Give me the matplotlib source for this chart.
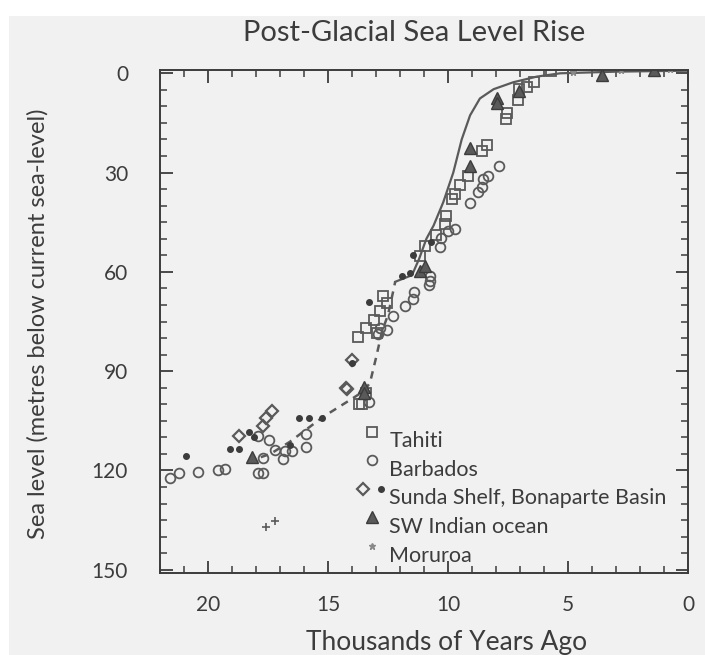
import matplotlib.pyplot as plt
from matplotlib.patches import Rectangle
from matplotlib.lines import Line2D
from matplotlib.legend_handler import HandlerTuple, HandlerLine2D
from matplotlib.ticker import MultipleLocator

# kyr ago / metres below present
tahiti_x = [5.7, 6.4, 6.7, 7.03, 7.1, 7.53, 7.58, 8.39, 8.6, 9.15, 9.5, 9.7, 9.85, 10.1,
            10.14, 10.5, 10.96, 11.17, 12.7, 12.55, 12.83, 13.1, 13.4, 13.74, 12.97, 13.4, 13.6, 13.7]
tahiti_y = [-0.7, 2.5, 4.0, 4.6, 8.1, 11.9, 13.7, 21.6, 23.6, 31.1, 33.7, 36.5, 38, 43,
            45.6, 48.8, 52.2, 55.2, 67.4, 69.4, 71.9, 74.5, 77, 79.7, 78.5, 96.7, 99.8, 99.8]

barb_x = [7.88, 8.32, 8.55, 8.6, 8.74, 9.08, 9.7, 10.0, 10.3, 10.35, 10.75, 10.75, 10.8, 11.4,
          11.45, 11.8, 12.28, 12.53, 12.83, 12.9, 13.3,
          21.6, 21.2, 20.4, 19.6, 19.3, 17.9, 17.46, 17.7, 17.9, 17.7, 17.2, 16.86, 16.8, 16.5, 15.9, 15.9]
barb_y = [27.9, 31.1, 31.9, 34.5, 36, 39.2, 47.1, 47.7, 49.7, 52.5, 61.1, 62.8, 64, 66,
          68.2, 70.4, 73.4, 77.5, 77, 78.7, 99.3,
          122.2, 120.8, 120.4, 119.8, 119.5, 109.5, 110.7, 116.3, 120.8, 120.8, 113.7, 116.5, 114, 114.2, 112.9, 108.9]

sunda_x = [18.7, 17.7, 17.6, 17.35, 14.2, 14.0, 14.25]
sunda_y = [109.5, 106.6, 104.3, 102, 95.4, 86.6, 95.2]

bonap_x = [20.9, 19.1, 18.7, 18.3, 18.1, 16.2, 15.8, 15.26, 13.3, 14.0, 11.45, 10.7, 16.6, 11.93, 11.6]
bonap_y = [115.7, 113.5, 113.5, 108.4, 109.9, 104.3, 104.3, 104.3, 69.2, 87.6, 55, 50.9, 112.2, 61.3, 60.3]

swind_x = [18.15, 13.5, 7.97, 7.97, 9.1, 9.08, 7.03, 3.6, 1.4, 11.17, 10.96, 13.5]
swind_y = [116, 94.7, 7.6, 9.1, 22.6, 27.9, 5.4, 0.5, -1, 59.8, 58.3, 96.5]

mur_x = [4.8, 2.8, 0.75]
mur_y = [-0.5, -1, -1.2]

cross_x = [17.6, 17.2]
cross_y = [137, 135.3]

dash_x = [17.8, 17.4, 16.6, 15.2, 14.1, 13.5, 13.25, 13.0, 12.75, 12.5, 12.3, 12.2]
dash_y = [116, 115, 111.4, 103.8, 98.8, 96, 93.5, 86, 78, 73, 66.4, 63]

curve_x = [12.2, 11.5, 11.2, 10.9, 10.6, 10.2, 9.78, 9.43, 9.08, 8.67, 8.1, 7.28, 6.3, 5.33, 3, 0]
curve_y = [63, 61, 56, 50, 46, 39, 30, 20, 12.7, 7.6, 4.8, 2.7, 1.0, 0, -0.5, -0.8]

ink = '#3c3c3c'
mk = '#5a5a5a'
paper = '#f1f1f1'
plt.rcParams['font.family'] = ['Lato', 'DejaVu Sans']


class RaisedMarker(HandlerLine2D):
    # legend symbols in the original sit a little above the text line
    def create_artists(self, legend, orig_handle, xdescent, ydescent, width, height, fontsize, trans):
        return super().create_artists(legend, orig_handle, xdescent, ydescent - 0.75 * fontsize,
                                      width, height, fontsize, trans)


fig = plt.figure(figsize=(7.05, 6.55), dpi=100, facecolor='white')
fig.patches.append(Rectangle((9 / 705, 0), 1, 1 - 16 / 655, transform=fig.transFigure,
                             facecolor=paper, edgecolor='none', zorder=-10))
ax = fig.add_axes([160 / 705, 1 - 573 / 655, 528 / 705, 503 / 655])
ax.set_facecolor(paper)

ax.plot(curve_x, curve_y, '-', color=mk, lw=1.6)
ax.plot(dash_x, dash_y, '--', color=mk, lw=1.8, dashes=(3, 2.5))

h1, = ax.plot(tahiti_x, tahiti_y, 's', ms=7, mfc='none', mec=mk, mew=1.3, ls='none')
h2, = ax.plot(barb_x, barb_y, 'o', ms=7, mfc='none', mec=mk, mew=1.3, ls='none')
h3a, = ax.plot(sunda_x, sunda_y, 'D', ms=6, mfc='none', mec=mk, mew=1.6, ls='none')
h3b, = ax.plot(bonap_x, bonap_y, 'o', ms=4, mfc=ink, mec=ink, ls='none')
h4, = ax.plot(swind_x, swind_y, '^', ms=8, mfc=mk, mec=ink, ls='none')
h5, = ax.plot(mur_x, mur_y, '*', ms=5, mfc='#888888', mec='#888888', ls='none')
ax.plot(cross_x, cross_y, '+', ms=6, mew=1.2, color=mk, ls='none')

ax.set_xlim(22, 0)
ax.set_ylim(151, -1)
ax.xaxis.set_major_locator(MultipleLocator(5))
ax.xaxis.set_minor_locator(MultipleLocator(1))
ax.yaxis.set_major_locator(MultipleLocator(30))
ax.yaxis.set_minor_locator(MultipleLocator(5))
ax.tick_params(which='both', direction='in', top=True, right=True, colors=ink)
ax.tick_params(which='major', length=9, width=1.3, labelsize=15)
ax.tick_params(axis='x', which='major', pad=16)
ax.tick_params(axis='y', which='major', pad=23)
ax.tick_params(which='minor', length=5, width=1.1)
for s in ax.spines.values():
    s.set_color(ink)
    s.set_linewidth(1.4)

leg = ax.legend([h1, h2, (h3a, h3b), h4, h5],
                ['Tahiti', 'Barbados', 'Sunda Shelf, Bonaparte Basin', 'SW Indian ocean', 'Moruroa'],
                handler_map={Line2D: RaisedMarker(),
                             tuple: HandlerTuple(ndivide=None, pad=0.3)},
                loc='upper left', bbox_to_anchor=(0.375, 0.282), frameon=False,
                fontsize=15.5, labelspacing=0.4, handlelength=1.3, handletextpad=0.15,
                borderpad=0, borderaxespad=0)
for t in leg.get_texts():
    t.set_color(ink)

fig.text(0.587, 0.950, 'Post-Glacial Sea Level Rise', ha='center', va='center',
         fontsize=21, color=ink)
fig.text(0.634, 0.008, 'Thousands of Years Ago', ha='center', va='baseline',
         fontsize=19, color=ink)
fig.text(0.054, 0.505, 'Sea level (metres below current sea-level)', rotation=90,
         ha='center', va='center', fontsize=17, color=ink)

fig.savefig('out.png', dpi=100, facecolor=fig.get_facecolor())
